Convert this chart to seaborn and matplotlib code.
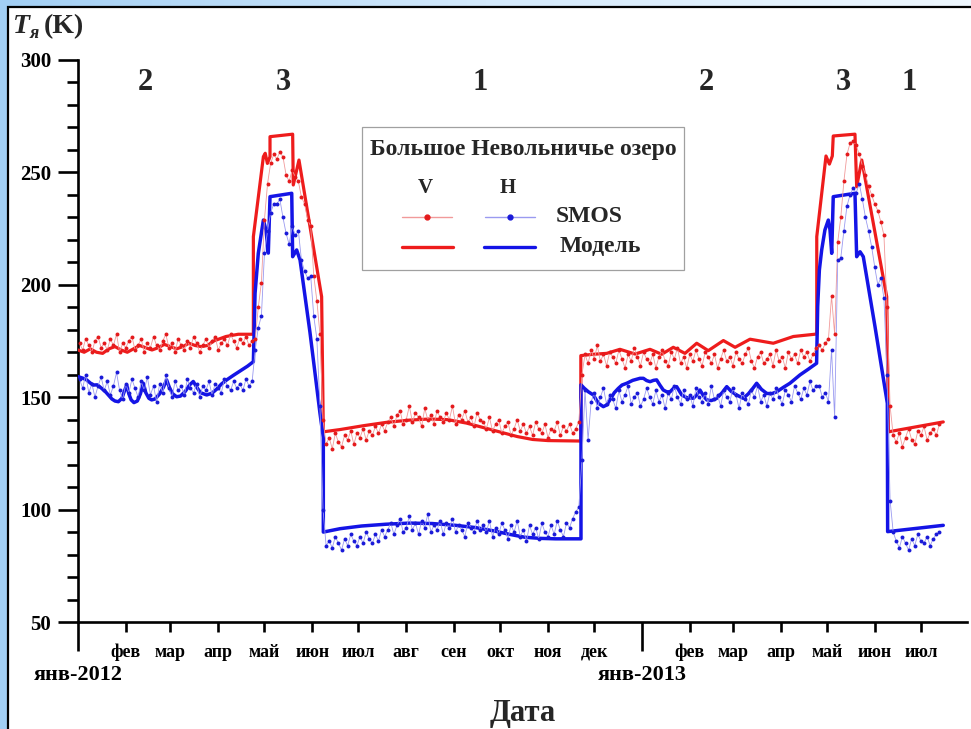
import numpy as np
import pandas as pd
import matplotlib
matplotlib.use("Agg")
import matplotlib.pyplot as plt
import seaborn as sns
from matplotlib.patches import Rectangle
from matplotlib.lines import Line2D
from matplotlib.colors import LinearSegmentedColormap

sns.set_theme(style="white")
plt.rcParams['font.family'] = ['Liberation Serif', 'DejaVu Serif']
plt.rcParams['font.weight'] = 'bold'

# ---------------- data ----------------
BASE = pd.Timestamp('2012-01-01')

# SMOS brightness temperatures, every 2 days starting 2012-01-02
smos_v_winter12 = [174, 171, 176, 173, 170, 175, 177, 172, 174, 171, 176, 173, 178, 170, 174, 172, 175, 177, 171, 173,
                   176, 170, 174, 172, 177, 173, 171, 175, 178, 172, 174, 170, 176, 173, 171, 175, 172, 177, 174, 170,
                   173, 176, 172, 175, 177, 171, 174, 176, 173, 178, 175, 172, 176, 174, 177, 173, 175]
smos_h_winter12 = [158, 154, 160, 152, 156, 150, 155, 159, 153, 157, 151, 155, 161, 153, 149, 156, 152, 158, 154, 150,
                   157, 153, 159, 151, 155, 148, 156, 152, 160, 154, 150, 157, 153, 155, 151, 158, 154, 152, 156, 150,
                   155, 153, 157, 151, 156, 154, 152, 158, 155, 153, 157, 154, 156, 153, 158, 155, 157]
smos_v_spring12 = [176, 190, 201, 229, 245, 254, 258, 256, 259, 257, 249, 246, 251, 248, 246, 239, 236, 229, 226,
                   204, 193, 178, 140]
smos_h_spring12 = [171, 181, 186, 214, 224, 232, 236, 236, 238, 230, 223, 218, 226, 222, 224, 211, 206, 203, 204,
                   186, 176, 146, 100]
smos_v_summer12 = [129, 132, 127, 134, 130, 128, 133, 131, 135, 129, 134, 132, 136, 131, 135, 133, 137, 134, 138, 135,
                   139, 141, 137, 142, 144, 138, 140, 146, 139, 143, 141, 137, 145, 140, 142, 138, 144, 141, 139, 143,
                   140, 146, 138, 142, 140, 144, 139, 141, 137, 143, 140,
                   139, 136, 141, 135, 138, 140, 134, 137, 139, 133, 136, 140, 135, 138, 134, 137, 133, 139, 136, 134,
                   138, 132, 136, 135, 139, 133, 137, 135, 138, 134, 136, 139]
smos_h_summer12 = [84, 86, 83, 88, 85, 82, 87, 84, 89, 86, 84, 88, 85, 90, 87, 85, 89, 86, 91, 88,
                   91, 94, 89, 93, 96, 90, 92, 97, 91, 94, 89, 95, 92, 98, 90, 93, 91, 95, 89, 94,
                   92, 96, 90, 93, 91, 88, 94, 92, 90, 95, 91,
                   93, 90, 95, 88, 92, 89, 94, 91, 87, 93, 90, 95, 88, 91, 86, 93, 89, 92, 87, 94,
                   90, 88, 93, 89, 95, 91, 88, 94, 92, 96, 99, 101]
smos_v_winter13 = [160, 169, 165, 171, 167, 173, 166, 169, 164, 170, 168, 165, 171, 167, 163, 169, 166, 172, 168, 164,
                   170, 167, 165, 169, 163, 168, 171, 166, 164, 170, 167, 172, 165, 168, 163, 169, 166, 171, 167, 164,
                   170, 168, 165, 169, 163, 167, 171, 166, 168, 164, 170, 167, 165, 169, 172, 166, 163, 168, 170, 165,
                   167, 169, 164, 171, 166, 168, 163, 170, 167, 169, 165, 171, 168, 170, 166, 169, 172]
smos_h_winter13 = [122, 153, 131, 148, 152, 145, 150, 154, 147, 151, 149, 145, 153, 148, 151, 155, 147, 150, 152, 146,
                   149, 154, 150, 147, 153, 148, 151, 145, 152, 149, 155, 150, 147, 153, 149, 151, 146, 154, 150, 148,
                   152, 147, 155, 149, 151, 146, 153, 150, 148, 154, 151, 145, 152, 149, 147, 153, 150, 155, 148, 151,
                   146, 152, 149, 154, 150, 147, 153, 151, 148, 155, 152, 149, 154, 151, 157, 153, 155]
smos_v_spring13 = [173, 171, 174, 176, 195, 178, 219, 230, 246, 258, 263, 264, 262, 258, 253, 249, 244, 240, 236,
                   233, 228, 222, 190, 146, 133,
                   130, 134, 128, 132, 136, 131, 129, 135, 133, 137, 131, 134, 136, 133, 138]
smos_h_spring13 = [155, 150, 152, 148, 171, 141, 211, 212, 224, 235, 240, 243, 241, 245, 238, 230, 224, 217, 208,
                   200, 203, 194, 160, 104, 90,
                   86, 83, 88, 85, 82, 87, 84, 89, 86, 85, 88, 84, 87, 89, 90]

# model (days since 2012-01-01, K)
model_v_day = [0, 4, 8, 12, 16, 20, 24, 28, 32, 36, 40, 44, 48, 52, 56, 60, 64, 68, 72, 76, 80, 84, 88, 92, 96,
               100, 104, 113.8,
               113.8, 120.3, 121.5, 122.9, 124.6, 124.6, 139.3, 139.7, 143.4, 158.1, 159.2,
               170, 185, 200, 215, 228, 240, 252, 263, 274, 285, 295, 305, 326.3,
               326.3, 334.4, 343.1, 351.7, 361.5, 371.2, 378.8, 386.3, 393.9, 401.5, 409, 418.8, 426.4, 436.1,
               451.2, 464.2, 479.4,
               479.4, 485.4, 487.6, 489.5, 490.1, 504.2, 505.3, 508.6, 524.8, 525.9, 561.5]
model_v = [171, 170, 171.5, 170, 169.5, 171.5, 172.5, 171, 170, 171.5, 173, 172, 171, 172, 173.5, 172.5, 171.5,
           172.5, 174, 173, 172.5, 173, 175, 176, 177, 177.5, 178, 178,
           221.4, 257, 258.5, 254, 257, 265.9, 267, 244.4, 255.5, 194.7, 134.6,
           135.6, 137.3, 138.8, 139.8, 140.3, 140, 138.5, 136.5, 134.5, 132.5, 131.2, 130.7, 130.5,
           168.5, 169.1, 169.5, 171.3, 169.2, 171.3, 169.1, 172.2, 169.5, 174, 170.7, 175.2, 172.2, 175.8,
           174, 177, 178.1,
           221.4, 257.3, 253.7, 257.3, 266.2, 267, 243.6, 255.5, 194.7, 134.6, 139]

model_h_day = [0.2, 3, 5.6, 8, 9.9, 12.5, 15.4, 18, 19.7, 22, 24, 26.2, 28.5, 30, 31.6, 33, 34.5, 36.3, 38.5,
               40.5, 42.4, 44, 46, 47.8, 50, 53, 55.5, 57.5, 59.5, 61.5, 64, 66.5, 69.5, 72.5, 74.8, 77, 79.5,
               83.5, 87, 90, 93, 96.5, 101, 106.2, 110, 113.8,
               114.9, 117, 120.3, 122, 123.5, 124.6, 138.7, 139.3, 141.9, 144.1, 150.5, 157, 159.2,
               159.2, 170, 184, 200, 215, 230, 245, 258, 270, 280, 290, 300, 310, 326.4,
               326.4, 328.5, 331.2, 334.4, 337.7, 340.9, 343, 345.2, 348, 350.6, 353, 356.1, 360, 364.7, 366.9,
               369, 371.2, 373.5, 375.5, 377.5, 379.8, 382, 384.2, 386.5, 388.5, 390, 391.8, 395, 399.3, 401.5,
               403.6, 406, 408, 411, 414.5, 418, 421, 424, 427.4, 431.7, 435, 438, 440.4, 443.5, 446.9, 450,
               453.4, 458, 462, 468.5, 474, 479.3,
               480, 481.1, 482.6, 484.7, 486.9, 488, 489.1, 490.1, 504.2, 505.3, 507.5, 509.6, 517.2, 525.2,
               525.4, 561.5]
model_h = [159.1, 158.5, 157.7, 156.3, 155.4, 155.5, 153.9, 152.3, 151, 149.2, 148.3, 148, 149.5, 152.5, 155.4,
           151.5, 148.8, 147.6, 148.3, 151.5, 156.2, 152, 149.5, 148.8, 149.2, 151.5, 154.5, 157.7, 154, 151.5,
           150.2, 150.5, 152.5, 155.5, 157, 154.5, 152, 151, 151.8, 153.6, 155.8, 157.7, 159.8, 162.1, 163.8, 165.8,
           196.2, 214, 228.8, 224.4, 214.1, 239.2, 240.7, 212.5, 215.5, 211, 179, 143, 132,
           90, 91.5, 92.7, 93.5, 94, 93.8, 93, 92, 90.5, 89, 87.7, 87.2, 87, 87,
           155.5, 154, 152.4, 151, 147.3, 145.8, 146.5, 148.8, 152, 153.9, 155.4, 156.2, 157.5, 158.4, 158.4,
           157.4, 156.9, 157.5, 157.7, 155.5, 153.2, 152.4, 152.4, 154, 154.7, 153, 151, 149.8, 149.5, 151,
           153.2, 150.5, 148.8, 148.5, 149.5, 152, 154.7, 152.5, 151, 149.5, 151.5, 154, 156.2, 153.5, 151.7, 151.5,
           152.4, 154.5, 156.2, 159.9, 162.5, 165.1,
           190.3, 206.6, 215.5, 224.4, 228.8, 224.4, 214, 239.2, 240.7, 212.5, 214.7, 212.5, 181.4, 147.3,
           90.2, 93]

month_names = ['фев', 'мар', 'апр', 'май', 'июн', 'июл', 'авг', 'сен', 'окт', 'ноя', 'дек',
               'фев', 'мар', 'апр', 'май', 'июн', 'июл']
year_labels = ['янв-2012', 'янв-2013']
region_labels = ['2', '3', '1', '2', '3', '1']
region_days = [43.5, 133, 261, 407.5, 496.5, 539.3]

# ---------------- assemble ----------------
smos_v = (smos_v_winter12 + smos_v_spring12 + smos_v_summer12 + smos_v_winter13 + smos_v_spring13)
smos_h = (smos_h_winter12 + smos_h_spring12 + smos_h_summer12 + smos_h_winter13 + smos_h_spring13)
n = min(len(smos_v), len(smos_h))
smos_v, smos_h = smos_v[:n], smos_h[:n]
smos_dates = pd.date_range('2012-01-02', periods=n, freq='2D')
smos_day = (smos_dates - BASE).days.values
smos_df = pd.DataFrame({'day': smos_day, 'V': smos_v, 'H': smos_h})
mv_df = pd.DataFrame({'day': model_v_day, 'T': model_v})
mh_df = pd.DataFrame({'day': model_h_day, 'T': model_h})

month_starts = pd.date_range('2012-01-01', '2013-07-01', freq='MS')
all_ticks = (month_starts - BASE).days.values
major_ticks = [d for d, m in zip(all_ticks, month_starts) if m.month == 1]
minor_ticks = [d for d, m in zip(all_ticks, month_starts) if m.month != 1]

# ---------------- figure ----------------
W, H = 971, 729
fig = plt.figure(figsize=(W / 100, H / 100), dpi=100)

# background gradient + white panel
bg = fig.add_axes([0, 0, 1, 1], zorder=-10)
cmap = LinearSegmentedColormap.from_list('bgc', ['#a2cff4', '#d3e9fb', '#eef7fe'])
bg.imshow(np.linspace(0, 1, 256)[None, :], aspect='auto', cmap=cmap, extent=[0, 1, 0, 1])
bg.add_patch(Rectangle((7.5 / W, -0.05), 1.2, 1 - 6.5 / H + 0.05, transform=bg.transAxes,
                       facecolor='white', edgecolor='black', linewidth=1.6))
bg.set_xlim(0, 1); bg.set_ylim(0, 1)
bg.axis('off')

AX_L, AX_R, AX_T, AX_B = 78, 967, 60, 622
ax = fig.add_axes([AX_L / W, 1 - AX_B / H, (AX_R - AX_L) / W, (AX_B - AX_T) / H])
ax.set_facecolor('none')

RED_M, BLUE_M = '#ee1c1c', '#1414e6'
RED_S, BLUE_S = '#e41a1c', '#1a1ad8'
RED_L, BLUE_L = '#f19a9a', '#9a9af0'

sns.lineplot(data=mv_df, x='day', y='T', estimator=None, sort=False, color=RED_M, linewidth=2.3, ax=ax, zorder=3)
sns.lineplot(data=mh_df, x='day', y='T', estimator=None, sort=False, color=BLUE_M, linewidth=2.5, ax=ax, zorder=3)
sns.lineplot(data=smos_df, x='day', y='V', estimator=None, sort=False, color=RED_L, linewidth=0.6, ax=ax, zorder=4)
sns.lineplot(data=smos_df, x='day', y='H', estimator=None, sort=False, color=BLUE_L, linewidth=0.6, ax=ax, zorder=4)
sns.scatterplot(data=smos_df, x='day', y='V', color=RED_S, s=8, linewidth=0, ax=ax, zorder=5)
sns.scatterplot(data=smos_df, x='day', y='H', color=BLUE_S, s=8, linewidth=0, ax=ax, zorder=5)

ax.set_xlim(0, (AX_R - AX_L) / 1.541)
ax.set_ylim(50, 300)
ax.set_xlabel('')
ax.set_ylabel('')

for s in ['top', 'right']:
    ax.spines[s].set_visible(False)
for s in ['left', 'bottom']:
    ax.spines[s].set_color('black')
    ax.spines[s].set_linewidth(1.9)

ax.set_yticks(np.arange(50, 301, 50))
ax.set_yticks(np.arange(50, 301, 10), minor=True)
ax.set_yticklabels([str(v) for v in range(50, 301, 50)], fontsize=15, fontweight='bold')
ax.set_xticks(major_ticks)
ax.set_xticklabels(year_labels, fontsize=16, fontweight='bold')
ax.set_xticks(minor_ticks, minor=True)
ax.set_xticklabels(month_names, minor=True, fontsize=13, fontweight='bold')

ax.tick_params(axis='both', which='both', direction='out', colors='black', left=True, bottom=True)
ax.tick_params(axis='y', which='major', length=14.4, width=1.9, pad=5)
ax.tick_params(axis='y', which='minor', length=8, width=1.9)
ax.tick_params(axis='x', which='major', length=21, width=1.9, pad=10)
ax.tick_params(axis='x', which='minor', length=7.5, width=1.9, pad=8)

# region numbers
for d, lab in zip(region_days, region_labels):
    ax.text(d, 289.8, lab, ha='center', va='center', fontsize=22, fontweight='bold', zorder=6)

# legend (manual)
def af(px, py):
    return ((px - AX_L) / (AX_R - AX_L), (AX_B - py) / (AX_B - AX_T))

x0, y0 = af(362, 270)
x1, y1 = af(684, 127)
ax.add_patch(Rectangle((x0, y0), x1 - x0, y1 - y0, transform=ax.transAxes, facecolor='white',
                       edgecolor='#a0a0a0', linewidth=0.9, zorder=7))
tx, ty = af(523, 150)
ax.text(tx, ty, 'Большое Невольничье озеро', transform=ax.transAxes, ha='center', va='center',
        fontsize=17, fontweight='bold', zorder=8)
for lab, px in [('V', 425), ('H', 508)]:
    a, b = af(px, 188)
    ax.text(a, b, lab, transform=ax.transAxes, ha='center', va='center', fontsize=15, fontweight='bold', zorder=8)
for (pa, pb, col_l, col_m) in [(402, 452, RED_L, RED_S), (485, 535, BLUE_L, BLUE_S)]:
    (a1, b1), (a2, _) = af(pa, 217), af(pb, 217)
    ax.add_line(Line2D([a1, a2], [b1, b1], transform=ax.transAxes, color=col_l, linewidth=1.0, zorder=8))
    ax.add_line(Line2D([(a1 + a2) / 2], [b1], transform=ax.transAxes, color=col_m, marker='o',
                       markersize=3.5, linewidth=0, zorder=9))
for (pa, pb, col) in [(402, 453, RED_M), (484, 535, BLUE_M)]:
    (a1, b1), (a2, _) = af(pa, 247), af(pb, 247)
    ax.add_line(Line2D([a1, a2], [b1, b1], transform=ax.transAxes, color=col, linewidth=2.4, zorder=8))
a, b = af(556, 217)
ax.text(a, b, 'SMOS', transform=ax.transAxes, ha='left', va='center', fontsize=17, fontweight='bold', zorder=8)
a, b = af(560, 247)
ax.text(a, b, 'Модель', transform=ax.transAxes, ha='left', va='center', fontsize=17, fontweight='bold', zorder=8)

# axis titles
fig.text(13 / W, 1 - 33 / H, 'T', fontsize=20, fontweight='bold', style='italic', va='baseline', ha='left')
fig.text(30 / W, 1 - 38 / H, 'я', fontsize=13, fontweight='bold', style='italic', va='baseline', ha='left')
fig.text(44 / W, 1 - 33 / H, '(K)', fontsize=20, fontweight='bold', va='baseline', ha='left')
fig.text(523 / W, 1 - 714 / H, 'Дата', fontsize=22, fontweight='bold', ha='center', va='center')

fig.savefig('out.png', dpi=100)
